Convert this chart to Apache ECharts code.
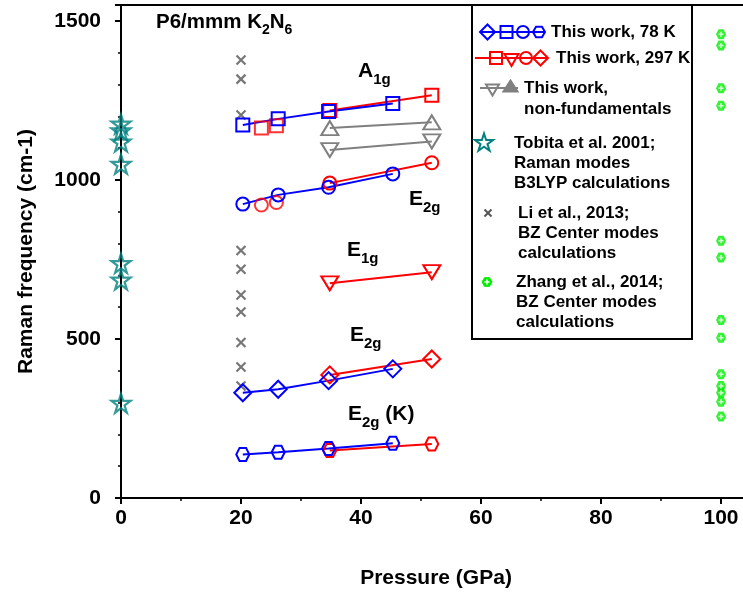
<!DOCTYPE html>
<html>
<head>
<meta charset="utf-8">
<script src="https://cdn.jsdelivr.net/npm/echarts@6/dist/echarts.min.js"></script>
<style>
html,body{margin:0;padding:0;background:#fff;}
#c{width:743px;height:597px;}
</style>
</head>
<body>
<div id="c"></div>
<script>
// ---------------- data ----------------
// This work, 78 K
const p78 = [20.3, 26.2, 34.6, 45.3];
const a1g78 = [1173, 1192, 1215, 1240];
const e2gHi78 = [924, 953, 977, 1019];
const e2gMid78 = [331, 342, 369, 406];
const e2gK78 = [137, 144, 156, 172];
// This work, 297 K (isolated low-pressure points)
const p297low = [23.4, 25.9];
const a1g297low = [1163, 1170];
const e2gHi297low = [921, 929];
// This work, 297 K (connected)
const p297 = [34.8, 51.8];
const a1g297 = [1218, 1266];
const e2gHi297 = [990, 1054];
const e1g297 = [675, 710];
const e2gMid297 = [387, 437];
const e2gK297 = [149, 170];
// This work, non-fundamentals
const pNF = [34.8, 51.8];
const nfUp = [1163, 1181];
const nfDown = [1094, 1121];
// Tobita et al. 2001 (0 GPa)
const pTobita = 0;
const tobita = [1176, 1155, 1120, 1050, 738, 686, 298];
// Li et al. 2013 (20 GPa)
const pLi = 20;
const li = [1377, 1317, 1204, 778, 719, 638, 585, 489, 412, 352];
// Zhang et al. 2014 (100 GPa)
const pZhang = 100;
const zhang = [1458, 1423, 1288, 1233, 809, 756, 560, 504, 389, 352, 331, 303, 256];
// axis ticks
const xTicks = {min: 0, max: 105, interval: 20};
const yTicks = {min: 0, max: 1550, interval: 500};

// ---------------- helpers ----------------
const FONT = '"Liberation Sans", Arial, sans-serif';
const BLUE = '#0000ff', RED = '#ff0000', GRAY = '#808080', TEAL = '#008080', XGRAY = '#555555', GREEN = '#00ee00';
const HEX = 'path://M-1,0 L-0.5,-0.866 L0.5,-0.866 L1,0 L0.5,0.866 L-0.5,0.866 Z';
const STAR = 'path://M0,-1 L0.2245,-0.309 L0.951,-0.309 L0.3633,0.118 L0.5878,0.809 L0,0.382 L-0.5878,0.809 L-0.3633,0.118 L-0.951,-0.309 L-0.2245,-0.309 Z';
const XMARK = 'path://M0,0 L1,1 M1,0 L0,1';
const PLUS = 'path://M0.5,0 L0.5,1 M0,0.5 L1,0.5';
const zip = (xs, ys) => xs.map((x, i) => [x, ys[i]]);
const col = (x, ys) => ys.map(y => [x, y]);
const hollow = c => ({color: 'rgba(0,0,0,0)', borderColor: c, borderWidth: 2});

function lineSeries(data, color, symbol, size, rotate) {
  return {type: 'line', data, symbol, symbolSize: size, symbolRotate: rotate || 0,
    lineStyle: {color, width: 2}, itemStyle: hollow(color), z: 3, animation: false, silent: true};
}
function scatterSeries(data, color, symbol, size, rotate, style) {
  return {type: 'scatter', data, symbol, symbolSize: size, symbolRotate: rotate || 0,
    itemStyle: style || hollow(color), z: 3, animation: false, silent: true};
}

const series = [
  scatterSeries(col(pLi, li), XGRAY, XMARK, 9, 0, {color: 'rgba(0,0,0,0)', borderColor: XGRAY, borderWidth: 2.2}),
  scatterSeries(col(pTobita, tobita), TEAL, STAR, 19, 0, {color: 'rgba(0,0,0,0)', borderColor: TEAL, borderWidth: 2.2}),
  scatterSeries(col(pZhang, zhang), GREEN, HEX, 10, 0, {color: GREEN, borderColor: GREEN, borderWidth: 0}),
  scatterSeries(col(pZhang, zhang), '#fff', PLUS, 5, 0, {color: 'rgba(0,0,0,0)', borderColor: '#fff', borderWidth: 1.5}),
  lineSeries(zip(pNF, nfUp), GRAY, 'triangle', [17, 14]),
  lineSeries(zip(pNF, nfDown), GRAY, 'triangle', [17, 14], 180),
  scatterSeries(zip(p297low, a1g297low), RED, 'rect', 13),
  scatterSeries(zip(p297low, e2gHi297low), RED, 'circle', 13),
  lineSeries(zip(p297, a1g297), RED, 'rect', 13),
  lineSeries(zip(p297, e2gHi297), RED, 'circle', 13),
  lineSeries(zip(p297, e1g297), RED, 'triangle', [17, 14], 180),
  lineSeries(zip(p297, e2gMid297), RED, 'diamond', 17),
  lineSeries(zip(p297, e2gK297), RED, HEX, 13),
  lineSeries(zip(p78, a1g78), BLUE, 'rect', 13),
  lineSeries(zip(p78, e2gHi78), BLUE, 'circle', 13),
  lineSeries(zip(p78, e2gMid78), BLUE, 'diamond', 17),
  lineSeries(zip(p78, e2gK78), BLUE, HEX, 13)
];

// ---------------- annotation & legend graphics ----------------
const mctx = document.createElement('canvas').getContext('2d');
function tw(text, size) { mctx.font = 'bold ' + size + 'px ' + FONT; return mctx.measureText(text).width; }
function txt(text, x, y, size, align) {
  return {type: 'text', z: 100, silent: true, style: {text, x, y, font: 'bold ' + size + 'px ' + FONT,
    fill: '#000', align: align || 'left', verticalAlign: 'middle'}};
}
function subText(parts, x, y, size, subSize) {
  const out = [];
  let cx = x;
  parts.forEach(([t, sub]) => {
    if (sub) { out.push(txt(t, cx, y + size * 0.42, subSize)); cx += tw(t, subSize); }
    else { out.push(txt(t, cx, y, size)); cx += tw(t, size); }
  });
  return out;
}
function poly(points, stroke, fill, lw) {
  return {type: 'polygon', z: 101, silent: true, shape: {points},
    style: {stroke, fill: fill || 'none', lineWidth: lw || 2}};
}
function diamondPts(cx, cy, r) { return [[cx, cy - r], [cx + r, cy], [cx, cy + r], [cx - r, cy]]; }
function hexPts(cx, cy, r) { return [[cx - r, cy], [cx - r / 2, cy - r * 0.866], [cx + r / 2, cy - r * 0.866], [cx + r, cy], [cx + r / 2, cy + r * 0.866], [cx - r / 2, cy + r * 0.866]]; }
function triPts(cx, cy, w, h, down) {
  return down ? [[cx - w / 2, cy - h / 2], [cx + w / 2, cy - h / 2], [cx, cy + h / 2]]
              : [[cx, cy - h / 2], [cx + w / 2, cy + h / 2], [cx - w / 2, cy + h / 2]];
}
function starPts(cx, cy, r) {
  const pts = [];
  for (let i = 0; i < 10; i++) {
    const a = -Math.PI / 2 + i * Math.PI / 5;
    const rr = i % 2 ? r * 0.382 : r;
    pts.push([cx + rr * Math.cos(a), cy + rr * Math.sin(a)]);
  }
  return pts;
}
function seg(x1, y1, x2, y2, stroke, lw) {
  return {type: 'line', z: 101, silent: true, shape: {x1, y1, x2, y2}, style: {stroke, lineWidth: lw || 2}};
}

const LS = 17;
const graphics = [
  {type: 'rect', z: 99, silent: true, shape: {x: 472, y: 5, width: 220, height: 334},
    style: {fill: '#fff', stroke: '#000', lineWidth: 2}},
  seg(480, 32, 545, 32, BLUE),
  poly(diamondPts(487.5, 32, 7.5), BLUE),
  {type: 'rect', z: 101, silent: true, shape: {x: 500.5, y: 26, width: 12, height: 12}, style: {stroke: BLUE, fill: 'none', lineWidth: 2}},
  {type: 'circle', z: 101, silent: true, shape: {cx: 523, cy: 32, r: 6}, style: {stroke: BLUE, fill: 'none', lineWidth: 2}},
  poly(hexPts(539, 32, 6), BLUE),
  txt('This work, 78 K', 551, 32, LS),
  seg(475, 58, 548, 58, RED),
  {type: 'rect', z: 101, silent: true, shape: {x: 490, y: 52, width: 12, height: 12}, style: {stroke: RED, fill: 'none', lineWidth: 2}},
  poly(triPts(511.5, 60, 14, 12, true), RED),
  {type: 'circle', z: 101, silent: true, shape: {cx: 526, cy: 58, r: 6}, style: {stroke: RED, fill: 'none', lineWidth: 2}},
  poly(diamondPts(540.5, 58, 7.5), RED),
  txt('This work, 297 K', 556, 58, LS),
  seg(480, 88, 518, 88, GRAY),
  poly(triPts(492.5, 90, 13, 11, true), GRAY),
  poly(triPts(510.5, 86, 14, 11, false), GRAY, GRAY),
  txt('This work,', 524, 88, LS),
  txt('non-fundamentals', 524, 109, LS),
  poly(starPts(484, 143, 9.5), TEAL),
  txt('Tobita et al. 2001;', 514, 143, LS),
  txt('Raman modes', 514, 163, LS),
  txt('B3LYP calculations', 514, 183, LS),
  seg(484.5, 209.5, 491.5, 216.5, XGRAY), seg(491.5, 209.5, 484.5, 216.5, XGRAY),
  txt('Li et al., 2013;', 518, 213, LS),
  txt('BZ Center modes', 518, 233, LS),
  txt('calculations', 518, 253, LS),
  poly(hexPts(487, 282, 5), GREEN, GREEN, 1),
  seg(487, 279.5, 487, 284.5, '#fff', 1.5), seg(484.5, 282, 489.5, 282, '#fff', 1.5),
  txt('Zhang et al., 2014;', 516, 282, LS),
  txt('BZ Center modes', 516, 302, LS),
  txt('calculations', 516, 322, LS)
];
[].push.apply(graphics, subText([['P6/mmm K', 0], ['2', 1], ['N', 0], ['6', 1]], 156, 22, 20.5, 14));
[].push.apply(graphics, subText([['A', 0], ['1g', 1]], 358, 71, 21, 15));
[].push.apply(graphics, subText([['E', 0], ['2g', 1]], 409, 199, 21, 15));
[].push.apply(graphics, subText([['E', 0], ['1g', 1]], 347, 250, 21, 15));
[].push.apply(graphics, subText([['E', 0], ['2g', 1]], 350, 335, 21, 15));
[].push.apply(graphics, subText([['E', 0], ['2g', 1], [' (K)', 0]], 348, 414, 21, 15));

const axisCommon = {
  axisLine: {show: true, lineStyle: {color: '#000', width: 2}},
  axisTick: {show: true, inside: false, length: 6, lineStyle: {color: '#000', width: 2}},
  minorTick: {show: true, length: 3, lineStyle: {color: '#000', width: 1.5}},
  splitLine: {show: false},
  nameTextStyle: {fontFamily: FONT, fontWeight: 'bold', fontSize: 21, color: '#000'}
};
const plain = v => String(v);

const chart = echarts.init(document.getElementById('c'), null, {renderer: 'canvas'});
chart.setOption({
  backgroundColor: '#fff',
  animation: false,
  grid: {left: 121, top: 5, width: 630, height: 493, containLabel: false, outerBoundsMode: 'none',
    show: true, borderColor: '#000', borderWidth: 2, backgroundColor: 'rgba(0,0,0,0)'},
  xAxis: Object.assign({}, axisCommon, {
    type: 'value', min: xTicks.min, max: xTicks.max, interval: xTicks.interval,
    minorTick: Object.assign({}, axisCommon.minorTick, {splitNumber: 2}),
    axisLabel: {showMaxLabel: false, margin: 10, formatter: plain, fontFamily: FONT, fontWeight: 'bold', fontSize: 21, color: '#000'},
    name: 'Pressure (GPa)', nameLocation: 'middle', nameGap: 70
  }),
  yAxis: Object.assign({}, axisCommon, {
    type: 'value', min: yTicks.min, max: yTicks.max, interval: yTicks.interval,
    minorTick: Object.assign({}, axisCommon.minorTick, {splitNumber: 5}),
    axisLabel: {showMaxLabel: false, margin: 20, formatter: plain, fontFamily: FONT, fontWeight: 'bold', fontSize: 21, color: '#000'},
    name: 'Raman frequency (cm-1)', nameLocation: 'middle', nameGap: 84
  }),
  series,
  graphic: graphics
});
</script>
</body>
</html>
